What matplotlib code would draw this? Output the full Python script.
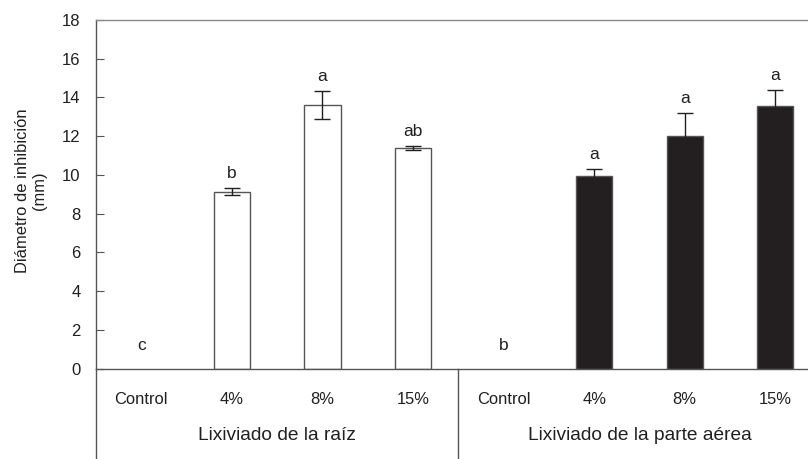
import matplotlib
matplotlib.use("Agg")
import matplotlib.pyplot as plt
from matplotlib.transforms import blended_transform_factory
from matplotlib.lines import Line2D

plt.rcParams['font.family'] = ['Liberation Sans', 'DejaVu Sans']

# Treatments per lixiviate source
categories = ["Control", "4%", "8%", "15%"]
groups = ["Lixiviado de la raíz", "Lixiviado de la parte aérea"]

# Inhibition diameter (mm) and standard errors
root_values = [0.0, 9.14, 13.63, 11.39]
root_errors = [0.0, 0.17, 0.73, 0.09]
root_letters = ["c", "b", "a", "ab"]

aerial_values = [0.0, 9.96, 12.01, 13.56]
aerial_errors = [0.0, 0.33, 1.17, 0.83]
aerial_letters = ["b", "a", "a", "a"]

yticks = [0, 2, 4, 6, 8, 10, 12, 14, 16, 18]

ink = "#231f20"
edge = "#555555"

fig = plt.figure(figsize=(8.08, 4.59), dpi=100)
ax = fig.add_axes([96 / 808, 90.3 / 459, 724.6 / 808, 348.7 / 459])

n = len(categories)
root_x = list(range(n))
aerial_x = [n + i for i in range(n)]
width = 0.40

def draw_group(xs, vals, errs, letters, face):
    for x, v, e, lab in zip(xs, vals, errs, letters):
        if v > 0:
            ax.bar(x, v, width=width, color=face, edgecolor=edge, linewidth=1.0, zorder=2)
            ax.errorbar(x, v, yerr=e, fmt="none", ecolor=ink, elinewidth=1.0,
                        capsize=6, capthick=1.0, zorder=3)
            ax.annotate(lab, (x, v + e), xytext=(0, 5), textcoords="offset points",
                        ha="center", va="bottom", fontsize=12.5, color=ink)
        else:
            ax.text(x, 1.2, lab, ha="center", va="center", fontsize=12.5, color=ink)

draw_group(root_x, root_values, root_errors, root_letters, "white")
draw_group(aerial_x, aerial_values, aerial_errors, aerial_letters, ink)

ax.set_xlim(-0.5, 2 * n - 0.5)
ax.set_ylim(0, 18)
ax.set_yticks(yticks)
ax.tick_params(axis="y", direction="in", length=6, width=0.8, color=edge,
               labelsize=12, labelcolor=ink, pad=11)
ax.tick_params(axis="x", length=0, labelbottom=False)

ax.spines["right"].set_visible(False)
ax.spines["top"].set_color("#8a8a8a")
ax.spines["left"].set_color(edge)
ax.spines["bottom"].set_color(edge)
for s in ax.spines.values():
    s.set_linewidth(1.0)

ax.set_ylabel("Diámetro de inhibición\n(mm)", fontsize=11.9, color=ink)
ax.yaxis.set_label_coords(-49 / 724.6, 0.51)

# Category table below the axis
trans = blended_transform_factory(ax.transData, ax.transAxes)
depth = -90.3 / 348.7
for xpos in (-0.5, n - 0.5):
    ax.add_line(Line2D([xpos, xpos], [0, depth], transform=trans, color=edge,
                       linewidth=1.0, clip_on=False))

for xs in (root_x, aerial_x):
    for x, c in zip(xs, categories):
        ax.text(x, -30.5 / 348.7, c, transform=trans, ha="center", va="center",
                fontsize=11.9, color=ink)

for xs, g in zip((root_x, aerial_x), groups):
    center = (xs[0] + xs[-1]) / 2
    ax.text(center, -66.5 / 348.7, g, transform=trans, ha="center", va="center",
            fontsize=13.8, color=ink)

fig.savefig("out.png", dpi=100)
